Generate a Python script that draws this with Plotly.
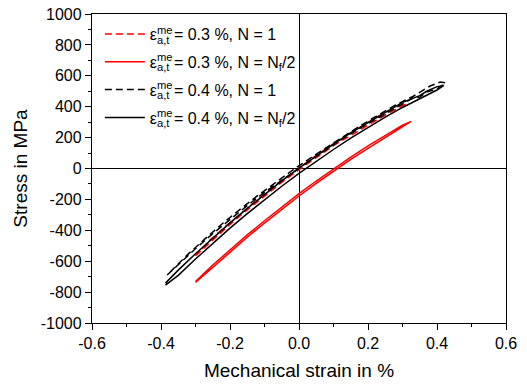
import plotly.graph_objects as go

# ---------------- data ----------------
# red dashed: 0.3 %, N = 1
rd_strain = [-0.300, -0.25, -0.20, -0.15, -0.10, -0.05, 0.00, 0.05, 0.10, 0.15, 0.20, 0.25, 0.28, 0.311,
             0.29, 0.24, 0.19, 0.14, 0.09, 0.04, -0.01, -0.06, -0.11, -0.16, -0.21, -0.26, -0.300]
rd_stress = [-565, -462, -362, -268, -176, -90, -8, 70, 148, 214, 282, 346, 382, 418,
             408, 351, 286, 217, 145, 69, -11, -95, -183, -274, -369, -467, -565]

# red solid: 0.3 %, N = Nf/2
rs_strain = [-0.300, -0.25, -0.20, -0.15, -0.10, -0.05, 0.00, 0.05, 0.10, 0.15, 0.20, 0.25, 0.30, 0.325,
             0.30, 0.25, 0.20, 0.15, 0.10, 0.05, 0.00, -0.05, -0.10, -0.15, -0.20, -0.25, -0.300]
rs_stress = [-738, -640, -541, -445, -353, -264, -178, -96, -17, 59, 131, 200, 267, 305,
             281, 215, 146, 74, -2, -81, -163, -249, -338, -430, -526, -625, -732]

# black dashed: 0.4 %, N = 1
bd_strain = [-0.382, -0.35, -0.30, -0.25, -0.20, -0.15, -0.10, -0.05, 0.00, 0.05, 0.10, 0.15, 0.20, 0.25,
             0.30, 0.33, 0.35, 0.37, 0.40, 0.425,
             0.41, 0.38, 0.33, 0.28, 0.23, 0.18, 0.13, 0.08, 0.03, -0.02, -0.07, -0.12, -0.17, -0.22,
             -0.27, -0.32, -0.382]
bd_stress = [-689, -622, -519, -422, -329, -240, -155, -75, 2, 79, 153, 225, 290, 354,
             415, 455, 462, 495, 515, 555,
             560, 534, 466, 411, 346, 280, 208, 137, 63, -13, -92, -176, -263, -353,
             -451, -551, -689]

# black solid: 0.4 %, N = Nf/2
bs_strain = [-0.387, -0.35, -0.30, -0.25, -0.20, -0.15, -0.10, -0.05, 0.00, 0.05, 0.10, 0.15, 0.20, 0.25,
             0.30, 0.35, 0.37, 0.40, 0.42,
             0.40, 0.37, 0.35, 0.30, 0.25, 0.20, 0.15, 0.10, 0.05, 0.00, -0.05, -0.10, -0.15, -0.20, -0.25,
             -0.30, -0.35, -0.387]
bs_stress = [-755, -692, -586, -484, -386, -292, -202, -115, -32, 47, 123, 197, 265, 332,
             395, 452, 470, 508, 538,
             530, 500, 472, 428, 362, 298, 230, 158, 82, 2, -80, -168, -258, -352, -450,
             -552, -658, -742]

x_ticks = [-0.6, -0.4, -0.2, 0.0, 0.2, 0.4, 0.6]
x_ticktext = ["-0.6", "-0.4", "-0.2", "0.0", "0.2", "0.4", "0.6"]
y_ticks = [-1000, -800, -600, -400, -200, 0, 200, 400, 600, 800, 1000]
y_ticktext = ["-1000", "-800", "-600", "-400", "-200", "0", "200", "400", "600", "800", "1000"]

eps = "ε<sup>me</sup><span style='letter-spacing:-20px'>\u00a0</span><sub>a,t</sub>"
names = [
    eps + " = 0.3 %, N = 1",
    eps + " = 0.3 %, N = N<sub>f</sub>/2",
    eps + " = 0.4 %, N = 1",
    eps + " = 0.4 %, N = N<sub>f</sub>/2",
]

FONT = "Liberation Sans, Arial, sans-serif"

fig = go.Figure()
series = [
    (rd_strain, rd_stress, "#ff0000", "7px,4px"),
    (rs_strain, rs_stress, "#ff0000", "solid"),
    (bd_strain, bd_stress, "#000000", "7px,4px"),
    (bs_strain, bs_stress, "#000000", "solid"),
]
for i, (xs, ys, col, dash) in enumerate(series):
    fig.add_trace(go.Scatter(
        x=xs, y=ys, mode="lines", name=names[i], legendgroup=str(i),
        line=dict(color=col, width=1.5, dash=dash),
    ))

axis_common = dict(
    showline=True, linecolor="black", linewidth=1.3, mirror=True,
    ticks="outside", ticklen=6, tickwidth=1.2, tickcolor="black",
    showgrid=False, zeroline=True, zerolinecolor="black", zerolinewidth=1.3,
    tickfont=dict(family=FONT, size=16, color="black"),
    automargin=False,
)

fig.update_xaxes(
    range=[-0.6, 0.6], tickmode="array", tickvals=x_ticks, ticktext=x_ticktext,
    minor=dict(tickmode="linear", tick0=-0.6, dtick=0.1, ticks="outside", ticklen=3,
               tickcolor="black", tickwidth=1.2),
    title=dict(text="Mechanical strain in %", font=dict(family=FONT, size=19, color="black"), standoff=12),
    **axis_common,
)
fig.update_yaxes(
    range=[-1000, 1000], tickmode="array", tickvals=y_ticks, ticktext=y_ticktext,
    minor=dict(tickmode="linear", tick0=-1000, dtick=100, ticks="outside", ticklen=3,
               tickcolor="black", tickwidth=1.2),
    title=dict(text="Stress in MPa", font=dict(family=FONT, size=19, color="black"), standoff=8),
    **axis_common,
)

fig.update_layout(
    width=527, height=384,
    margin=dict(l=92, r=21, t=14, b=61, autoexpand=False),
    paper_bgcolor="white", plot_bgcolor="white",
    showlegend=True,
    legend=dict(x=0.019, y=0.99, xanchor="left", yanchor="top", bgcolor="rgba(0,0,0,0)",
                font=dict(family=FONT, size=16, color="black"), tracegroupgap=4,
                traceorder="grouped", itemwidth=40),
)

fig.write_html("out.html", config={"displayModeBar": False},
               post_script="document.body.style.margin='0';")
